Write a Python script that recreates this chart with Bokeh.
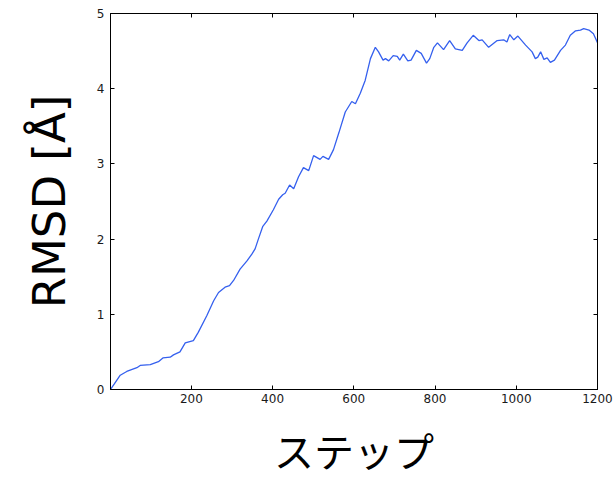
from bokeh.plotting import figure
from bokeh.models import LinearAxis, Range1d, FixedTicker
from bokeh.embed import file_html
from bokeh.resources import INLINE

steps = [1, 10, 25, 41, 66, 74, 99, 119, 130, 148, 156, 172, 185, 205, 217, 238, 255, 267,
         283, 294, 304, 320, 337, 349, 357, 365, 376, 386, 402, 415, 425, 431, 442, 452, 464,
         476, 489, 501, 517, 524, 538, 550, 563, 579, 595, 604, 616, 628, 641, 653, 661, 672,
         678, 686, 697, 707, 713, 722, 733, 741, 754, 766, 779, 787, 797, 806, 821, 836, 850,
         867, 879, 894, 908, 916, 932, 953, 969, 977, 984, 994, 1004, 1023, 1039, 1047, 1053,
         1060, 1068, 1076, 1084, 1094, 1109, 1121, 1133, 1146, 1158, 1166, 1179, 1190, 1200]
rmsd = [0.0, 0.07, 0.19, 0.24, 0.29, 0.32, 0.33, 0.37, 0.42, 0.43, 0.46, 0.50, 0.62, 0.65,
        0.76, 0.98, 1.18, 1.29, 1.36, 1.38, 1.45, 1.60, 1.71, 1.80, 1.87, 2.00, 2.17, 2.24,
        2.39, 2.53, 2.59, 2.61, 2.72, 2.67, 2.83, 2.95, 2.91, 3.11, 3.06, 3.10, 3.06, 3.19,
        3.41, 3.69, 3.83, 3.80, 3.94, 4.11, 4.40, 4.55, 4.49, 4.38, 4.40, 4.37, 4.44, 4.43,
        4.38, 4.46, 4.37, 4.38, 4.51, 4.47, 4.34, 4.40, 4.55, 4.61, 4.52, 4.64, 4.53, 4.51,
        4.61, 4.71, 4.64, 4.65, 4.55, 4.64, 4.65, 4.62, 4.72, 4.65, 4.70, 4.58, 4.49, 4.40,
        4.42, 4.49, 4.39, 4.41, 4.35, 4.38, 4.51, 4.58, 4.71, 4.77, 4.78, 4.80, 4.78, 4.73,
        4.61]

x_ticks = [200, 400, 600, 800, 1000, 1200]
y_ticks = [0, 1, 2, 3, 4, 5]
x_label = "ステップ"
y_label = "RMSD [Å]"

p = figure(width=613, height=481, output_backend="svg", toolbar_location=None,
           x_range=Range1d(1, 1200), y_range=Range1d(0, 5),
           min_border_left=110, min_border_right=16, min_border_top=13, min_border_bottom=90)
p.grid.visible = False
p.outline_line_color = "black"
p.outline_line_width = 1
p.background_fill_color = "white"
p.border_fill_color = "white"

p.line(steps, rmsd, line_color="#3560ee", line_width=1.3)

for ax in p.xaxis:
    ax.ticker = FixedTicker(ticks=x_ticks)
    ax.axis_label = x_label
    ax.axis_label_text_font = "Noto Sans CJK JP"
    ax.axis_label_text_font_size = "40px"
    ax.axis_label_text_font_style = "normal"
    ax.axis_label_text_color = "black"
    ax.axis_label_standoff = 15
for ax in p.yaxis:
    ax.ticker = FixedTicker(ticks=y_ticks)
    ax.axis_label = y_label
    ax.axis_label_text_font = "DejaVu Sans"
    ax.axis_label_text_font_size = "45px"
    ax.axis_label_text_font_style = "normal"
    ax.axis_label_text_color = "black"
    ax.axis_label_standoff = 18

for ax in list(p.xaxis) + list(p.yaxis):
    ax.major_tick_in = 4
    ax.major_tick_out = 0
    ax.minor_tick_in = 0
    ax.minor_tick_out = 0
    ax.major_label_text_font = "DejaVu Sans"
    ax.major_label_text_font_size = "12px"
    ax.major_label_text_color = "#1a1a1a"
    ax.axis_line_color = "black"
    ax.major_tick_line_color = "black"
p.xaxis.major_label_standoff = 4
p.yaxis.major_label_standoff = 6

top = LinearAxis(ticker=FixedTicker(ticks=x_ticks),
                 major_label_overrides={t: "" for t in x_ticks},
                 major_tick_in=4, major_tick_out=0, minor_tick_in=0, minor_tick_out=0,
                 major_label_standoff=0, axis_line_color="black")
right = LinearAxis(ticker=FixedTicker(ticks=y_ticks),
                   major_label_overrides={t: "" for t in y_ticks},
                   major_tick_in=4, major_tick_out=0, minor_tick_in=0, minor_tick_out=0,
                   major_label_standoff=0, axis_line_color="black")
p.add_layout(top, "above")
p.add_layout(right, "right")

open("out.html", "w").write(file_html(p, INLINE))
